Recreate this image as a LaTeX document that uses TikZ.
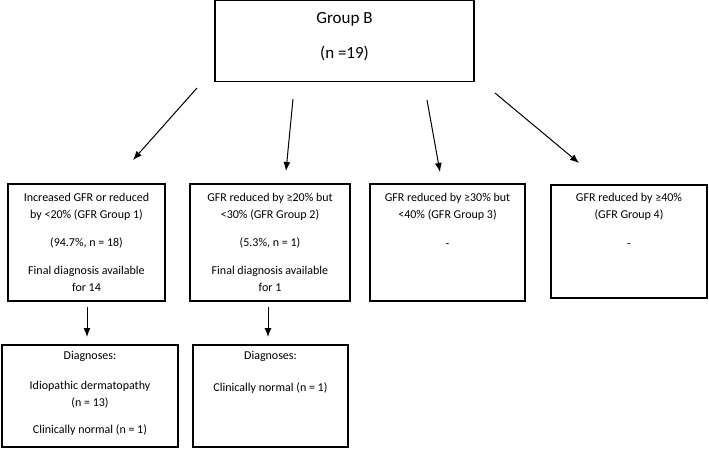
\documentclass[tikz,border=0pt]{standalone}
\usepackage{fontspec}
\setmainfont{Carlito}
\usetikzlibrary{arrows.meta}

\tikzset{
 box/.style={draw,line width=1.1pt,inner sep=0pt},
 txt/.style={anchor=base,align=center,inner sep=0pt,font=\fontsize{12}{17}\selectfont},
 >={Latex[length=9pt,width=7pt]}
}

\begin{document}
\begin{tikzpicture}[x=1pt,y=-1pt]
\useasboundingbox (0,0) rectangle (709,450);
% boxes
\node[box,minimum width=259pt,minimum height=81pt] (top) at (344.5,41.3) {};
\node[box,minimum width=157pt,minimum height=117pt] (g1) at (86.5,242.5) {};
\node[box,minimum width=160pt,minimum height=117pt] (g2) at (270,242.5) {};
\node[box,minimum width=155pt,minimum height=117pt] (g3) at (447.5,242.5) {};
\node[box,minimum width=156pt,minimum height=113pt] (g4) at (629,241.5) {};
\node[box,minimum width=176pt,minimum height=102pt] (d1) at (90,396) {};
\node[box,minimum width=155pt,minimum height=102pt] (d2) at (270.5,396) {};
% texts (placed at the baseline of the last line)
\node[txt,font=\fontsize{17}{17}\selectfont] (toptxt) at (344.5,58.4) {Group B\\[18pt] (n =19)};
\node[txt] (g1txt) at (86.5,291) {Increased GFR or reduced\\ by <20\% (GFR Group 1)\\[11pt] (94.7\%, n = 18)\\[11pt] Final diagnosis available\\ for 14};
\node[txt] (g2txt) at (270,291) {GFR reduced by ≥20\% but\\ <30\% (GFR Group 2)\\[11pt] (5.3\%, n = 1)\\[11pt] Final diagnosis available\\ for 1};
\node[txt] (g3txt) at (447.5,247) {GFR reduced by ≥30\% but\\ <40\% (GFR Group 3)\\[12pt] -};
\node[txt] (g4txt) at (629,247) {GFR reduced by ≥40\%\\ (GFR Group 4)\\[12pt] -};
\node[txt] (d1txt) at (90,433) {Diagnoses:\\[13pt] Idiopathic dermatopathy\\ (n = 13)\\[10pt] Clinically normal (n = 1)};
\node[txt] (d2txt) at (270.5,391) {Diagnoses:\\[15pt] Clinically normal (n = 1)};
% arrow ends
\coordinate (s1) at (197,88);  \coordinate (e1) at (133,160);
\coordinate (s2) at (293,99);  \coordinate (e2) at (286,171);
\coordinate (s3) at (427,100); \coordinate (e3) at (440,172);
\coordinate (s4) at (495,93);  \coordinate (e4) at (579,163);
\coordinate (s5) at (87,307);  \coordinate (e5) at (87,337);
\coordinate (s6) at (268,307); \coordinate (e6) at (268,337);
\foreach \i in {1,...,6}
 \draw[->,line width=1pt] (s\i) -- (e\i);
\end{tikzpicture}
\end{document}
